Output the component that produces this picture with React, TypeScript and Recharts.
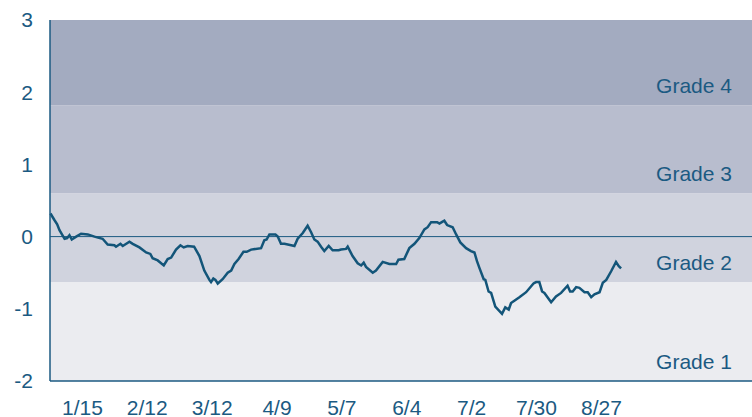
import React from "react";
import { LineChart, Line, XAxis, YAxis, ReferenceArea, ReferenceLine } from "recharts";

// day of year and index value
const days = [
  1.2, 2.9, 4.1, 5.1, 7.3, 8.4, 9.4, 10.4, 12.3, 14.4, 17.3, 20.2, 23.7, 25.9, 28.8, 29.5,
  31.4, 32.4, 35.3, 36.7, 39.6, 42.5, 44.3, 45.3, 47.5, 50.1, 51.8, 53.3, 55.4, 57.3, 58.7,
  60.4, 63.2, 65.5, 67.6, 69.8, 70.5, 71.5, 72.4, 73.4, 75.5, 77.7, 79.2, 80.6, 82.4, 84.5,
  85.9, 87.8, 92.1, 93.5, 94.5, 95.7, 98.3, 99.3, 100.7, 102.2, 105.1, 106.5, 107.9, 110.1,
  112.2, 113.7, 115.1, 116.5, 118.0, 119.4, 121.3, 123.0, 125.6, 126.6, 128.8, 129.5, 131.6,
  133.8, 135.3, 136.4, 137.4, 140.3, 141.7, 144.6, 147.5, 150.4, 151.4, 153.9, 156.1, 158.3,
  160.4, 162.6, 164.0, 165.5, 168.1, 169.1, 170.1, 171.2, 172.4, 174.8, 176.3, 178.1, 180.6,
  182.7, 184.2, 185.3, 186.3, 188.2, 188.9, 190.3, 191.4, 193.2, 196.1, 197.5, 199.0, 200.0,
  203.6, 206.5, 209.7, 210.8, 212.2, 213.4, 214.4, 217.3, 219.4, 221.6, 224.4, 225.5, 226.6,
  228.1, 229.5, 231.7, 233.1, 234.6, 236.0, 238.2, 239.6, 241.1, 243.2, 245.3, 246.5, 247.5,
];
const values = [
  0.32, 0.23, 0.17, 0.09, -0.03, -0.02, 0.02, -0.04, 0.0, 0.04, 0.03, 0.0, -0.03, -0.11, -0.12, -0.14,
  -0.1, -0.13, -0.07, -0.1, -0.15, -0.22, -0.24, -0.3, -0.33, -0.4, -0.31, -0.29, -0.18, -0.12, -0.15,
  -0.13, -0.14, -0.27, -0.47, -0.6, -0.63, -0.58, -0.6, -0.65, -0.59, -0.5, -0.47, -0.38, -0.31, -0.21,
  -0.21, -0.18, -0.16, -0.05, -0.04, 0.03, 0.03, 0.0, -0.1, -0.1, -0.12, -0.13, -0.03, 0.05,
  0.15, 0.06, -0.04, -0.07, -0.14, -0.2, -0.13, -0.19, -0.19, -0.18, -0.17, -0.14, -0.27,
  -0.37, -0.4, -0.36, -0.42, -0.5, -0.47, -0.35, -0.38, -0.38, -0.32, -0.31, -0.16, -0.1,
  -0.02, 0.1, 0.13, 0.2, 0.2, 0.18, 0.2, 0.22, 0.16, 0.13, 0.03, -0.08, -0.16,
  -0.2, -0.22, -0.34, -0.43, -0.59, -0.6, -0.76, -0.78, -0.97, -1.07, -0.98, -1.01, -0.92,
  -0.84, -0.77, -0.65, -0.63, -0.63, -0.76, -0.78, -0.91, -0.83, -0.78, -0.68, -0.76, -0.76,
  -0.7, -0.71, -0.77, -0.77, -0.84, -0.8, -0.77, -0.64, -0.6, -0.48, -0.35, -0.41, -0.44,
];

const tickDays = [15, 43, 71, 99, 127, 155, 183, 211, 239];
const tickLabels = ["1/15", "2/12", "3/12", "4/9", "5/7", "6/4", "7/2", "7/30", "8/27"];
const yTicks = [-2, -1, 0, 1, 2, 3];

const grades = ["Grade 1", "Grade 2", "Grade 3", "Grade 4"];
const gradeBounds = [-2, -0.63, 0.6, 1.82, 3];
const gradeColors = ["#ebecf0", "#d0d3de", "#b8bdce", "#a3abc0"];

const data = days.map((d, i) => ({ day: d, value: values[i] }));

const ink = "#1b5a82";
const font = "'Liberation Sans', Arial, sans-serif";

function GradeLabel(props: any) {
  const { viewBox, text } = props;
  const { x, y, width, height } = viewBox;
  return (
    <text
      x={x + width - 20}
      y={y + height - 18}
      textAnchor="end"
      fill={ink}
      fontSize={21}
      fontFamily={font}
      dominantBaseline="middle"
    >
      {text}
    </text>
  );
}

export default function App() {
  return (
    <div style={{ position: "absolute", left: 0, top: 0 }}>
      <LineChart width={752} height={417} data={data} margin={{ top: 20, right: 0, bottom: 0, left: 0 }}>
        {grades.map((g, i) => (
          <ReferenceArea
            key={g}
            y1={gradeBounds[i]}
            y2={gradeBounds[i + 1]}
            fill={gradeColors[i]}
            fillOpacity={1}
            stroke="none"
            ifOverflow="hidden"
            label={<GradeLabel text={g} />}
          />
        ))}
        <ReferenceLine y={0} stroke={ink} strokeWidth={1} />
        <XAxis
          type="number"
          dataKey="day"
          domain={[1, 304]}
          ticks={tickDays}
          tickFormatter={(v: number) => tickLabels[tickDays.indexOf(v)]}
          height={36}
          tickLine={false}
          tickSize={6}
          tickMargin={13}
          axisLine={{ stroke: ink, strokeWidth: 1.5 }}
          tick={{ fill: ink, fontSize: 21, fontFamily: font }}
          interval={0}
        />
        <YAxis
          type="number"
          domain={[-2, 3]}
          ticks={yTicks}
          width={50}
          tickLine={false}
          tickSize={6}
          tickMargin={11}
          axisLine={{ stroke: ink, strokeWidth: 1.5 }}
          tick={{ fill: ink, fontSize: 21, fontFamily: font }}
          interval={0}
        />
        <Line
          type="linear"
          dataKey="value"
          stroke="#135579"
          strokeWidth={2.5}
          dot={false}
          isAnimationActive={false}
        />
      </LineChart>
    </div>
  );
}
